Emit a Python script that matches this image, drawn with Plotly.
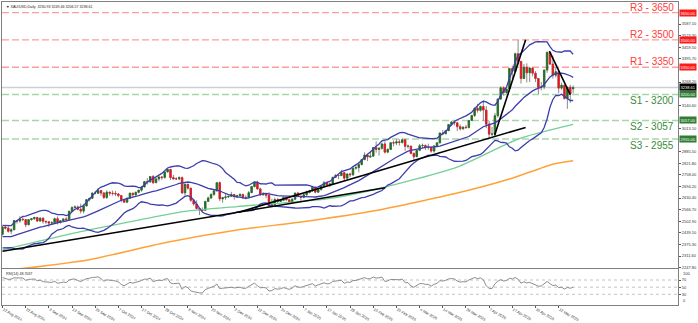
import numpy as np
import pandas as pd
import plotly.graph_objects as go

# ---------------- data ----------------
holidays = ["2024-12-25", "2025-01-01", "2025-04-18"]
dates = [d for d in pd.bdate_range("2024-08-12", "2025-05-19") if d.strftime("%Y-%m-%d") not in holidays]

open_ = [
    2431, 2472, 2465, 2448, 2456, 2507, 2504, 2514, 2512, 2484, 2512, 2517, 2524, 2504, 2520,
    2503, 2500, 2493, 2495, 2517, 2497, 2506, 2516, 2512, 2558, 2578, 2582, 2569, 2559, 2587, 2622, 2629, 2657, 2657, 2672, 2658,
    2634, 2663, 2657, 2656, 2653, 2644, 2622, 2608, 2630, 2657, 2649, 2662, 2674, 2692, 2721, 2720, 2749, 2715, 2736, 2747, 2743, 2774, 2788,
    2743, 2736, 2736, 2743, 2659, 2706, 2685, 2618, 2598, 2573, 2565, 2563, 2612, 2631, 2650, 2670, 2715, 2626, 2633, 2637, 2640,
    2650, 2639, 2643, 2650, 2632, 2633, 2660, 2694, 2718, 2681, 2648, 2652, 2646, 2587, 2594, 2622, 2612, 2618, 2634, 2621, 2606,
    2624, 2658, 2640, 2635, 2649, 2661, 2670, 2690, 2663, 2677, 2696, 2715, 2703, 2708, 2745, 2755, 2754, 2770, 2740, 2763, 2759, 2795,
    2798, 2815, 2842, 2867, 2856, 2861, 2908, 2898, 2904, 2928, 2883, 2898, 2935, 2933, 2940, 2936, 2951, 2915, 2916, 2876,
    2858, 2893, 2918, 2920, 2910, 2910, 2889, 2917, 2934, 2988, 2984, 3001, 3035, 3048, 3044, 3023, 3011, 3020, 3018, 3057, 3085,
    3124, 3113, 3134, 3114, 3037, 2982, 2983, 3083, 3175, 3237, 3211, 3230, 3343, 3327, 3424, 3381, 3288, 3349, 3319, 3345, 3317,
    3288, 3239, 3241, 3334, 3431, 3367, 3306, 3325, 3235, 3251, 3178, 3240, 3230.93,
]
high = [
    2475, 2479, 2478, 2464, 2509, 2510, 2531, 2526, 2514, 2513, 2521, 2527, 2527, 2524, 2524,
    2505, 2504, 2503, 2523, 2529, 2507, 2517, 2525, 2560, 2586, 2590, 2589, 2600, 2599, 2625, 2632, 2664, 2670, 2685, 2674, 2664,
    2673, 2666, 2672, 2670, 2658, 2646, 2624, 2633, 2661, 2660, 2666, 2675, 2696, 2722, 2740, 2749, 2758, 2738, 2748, 2748, 2776, 2790, 2790,
    2758, 2745, 2750, 2749, 2711, 2709, 2686, 2627, 2618, 2575, 2579, 2615, 2639, 2657, 2673, 2716, 2722, 2635, 2656, 2643, 2665,
    2652, 2649, 2658, 2656, 2646, 2669, 2696, 2721, 2726, 2688, 2664, 2653, 2664, 2627, 2633, 2630, 2621, 2639, 2637, 2626, 2630,
    2660, 2665, 2643, 2654, 2671, 2676, 2697, 2691, 2680, 2697, 2725, 2722, 2711, 2746, 2763, 2759, 2786, 2773, 2765, 2770, 2800, 2817,
    2830, 2845, 2882, 2872, 2887, 2911, 2942, 2910, 2935, 2943, 2904, 2938, 2947, 2955, 2954, 2957, 2956, 2925, 2918, 2881,
    2895, 2928, 2930, 2925, 2930, 2912, 2921, 2940, 2990, 3005, 3002, 3038, 3055, 3057, 3047, 3036, 3025, 3033, 3060, 3087, 3128,
    3149, 3139, 3168, 3136, 3055, 3023, 3099, 3176, 3245, 3245, 3232, 3345, 3358, 3430, 3500, 3386, 3368, 3371, 3352, 3349, 3328,
    3290, 3269, 3337, 3437, 3434, 3414, 3348, 3327, 3265, 3252, 3241, 3253, 3249.46,
]
low = [
    2425, 2458, 2440, 2432, 2455, 2490, 2496, 2505, 2471, 2481, 2506, 2511, 2499, 2502, 2490,
    2489, 2472, 2484, 2491, 2485, 2490, 2500, 2500, 2510, 2556, 2574, 2563, 2546, 2546, 2585, 2612, 2625, 2651, 2653, 2643, 2625,
    2625, 2643, 2644, 2642, 2635, 2607, 2605, 2603, 2626, 2637, 2642, 2656, 2666, 2688, 2705, 2714, 2709, 2715, 2723, 2731, 2738, 2772, 2730,
    2733, 2730, 2728, 2652, 2643, 2677, 2610, 2589, 2568, 2537, 2555, 2562, 2610, 2625, 2643, 2667, 2613, 2605, 2621, 2631, 2637,
    2622, 2631, 2639, 2625, 2623, 2632, 2660, 2689, 2677, 2643, 2645, 2630, 2583, 2584, 2583, 2603, 2609, 2616, 2616, 2597, 2603,
    2623, 2636, 2615, 2629, 2643, 2656, 2665, 2657, 2660, 2672, 2688, 2700, 2690, 2702, 2741, 2735, 2752, 2730, 2737, 2745, 2752, 2787,
    2772, 2810, 2839, 2834, 2853, 2860, 2880, 2864, 2897, 2876, 2880, 2896, 2915, 2922, 2919, 2930, 2890, 2903, 2871, 2833,
    2856, 2888, 2904, 2894, 2896, 2880, 2880, 2907, 2932, 2976, 2982, 3000, 3026, 3029, 2999, 3002, 3007, 3012, 3014, 3055, 3076,
    3100, 3106, 3054, 3015, 2957, 2971, 2970, 3073, 3170, 3194, 3204, 3228, 3284, 3322, 3366, 3260, 3288, 3266, 3268, 3300, 3268,
    3202, 3222, 3229, 3319, 3364, 3287, 3293, 3207, 3226, 3172, 3121, 3154, 3206.57,
]
close = [
    2472, 2465, 2448, 2456, 2507, 2504, 2514, 2512, 2484, 2512, 2517, 2524, 2504, 2520, 2503,
    2500, 2493, 2495, 2517, 2497, 2506, 2516, 2512, 2558, 2578, 2582, 2569, 2559, 2587, 2622, 2629, 2657, 2657, 2672, 2658, 2634,
    2663, 2657, 2656, 2653, 2644, 2622, 2608, 2630, 2657, 2649, 2662, 2674, 2692, 2721, 2720, 2749, 2715, 2736, 2747, 2743, 2774, 2788, 2743,
    2736, 2736, 2743, 2659, 2706, 2685, 2618, 2598, 2573, 2565, 2563, 2612, 2631, 2650, 2670, 2715, 2626, 2633, 2637, 2640, 2650,
    2639, 2643, 2650, 2632, 2633, 2660, 2694, 2718, 2681, 2648, 2652, 2646, 2587, 2594, 2622, 2612, 2618, 2634, 2621, 2606, 2624,
    2658, 2640, 2635, 2649, 2661, 2670, 2690, 2663, 2677, 2696, 2715, 2703, 2708, 2745, 2755, 2754, 2770, 2740, 2763, 2759, 2795, 2798,
    2815, 2842, 2867, 2856, 2861, 2908, 2898, 2904, 2928, 2883, 2898, 2935, 2933, 2940, 2936, 2951, 2915, 2916, 2876, 2858,
    2893, 2918, 2920, 2910, 2910, 2889, 2917, 2934, 2988, 2984, 3001, 3035, 3048, 3044, 3023, 3011, 3020, 3018, 3057, 3085, 3124,
    3113, 3134, 3114, 3037, 2982, 2983, 3083, 3175, 3237, 3211, 3230, 3343, 3327, 3424, 3381, 3288, 3349, 3319, 3345, 3317, 3288,
    3239, 3241, 3334, 3431, 3367, 3306, 3325, 3235, 3251, 3178, 3240, 3202, 3238.61,
]
# closes of the 20 sessions before the window (for Bollinger / RSI warm-up)
pre_close = [2422, 2469, 2459, 2445, 2400, 2396, 2409, 2398, 2365, 2387,
             2384, 2411, 2448, 2446, 2443, 2410, 2390, 2382, 2427, 2431]

ma100_dates = ["2024-08-12", "2024-09-18", "2024-10-16", "2024-11-07", "2024-12-03", "2025-01-17",
               "2025-02-11", "2025-03-21", "2025-04-22", "2025-05-19"]
ma100_vals = [2346, 2446, 2509, 2557, 2584, 2626, 2679, 2801, 2955, 3035]
ma200_dates = ["2024-08-19", "2024-09-23", "2024-10-29", "2024-12-03", "2025-01-06", "2025-02-11",
               "2025-03-21", "2025-04-16", "2025-05-08", "2025-05-19"]
ma200_vals = [2240, 2292, 2385, 2455, 2499, 2562, 2658, 2735, 2817, 2836]

# trend lines (bar position, price)
tl_x0 = [0.0, 81.6, 169.9, 188.8]
tl_y0 = [2338, 2553, 2976, 3438]
tl_x1 = [132.1, 180.6, 180.6, 196.0]
tl_y1 = [2687, 3019, 3501, 3199]

level_names = ["R3 - 3650", "R2 - 3500", "R1 - 3350", "S1 - 3200", "S2 - 3057", "S3 - 2955"]
level_vals = [3650, 3500, 3350, 3200, 3057, 2955]
level_kind = ["R", "R", "R", "S", "S", "S"]

# price-scale labels that are visible (the rest sit under the coloured level tags)
price_ticks = [2247.80, 2311.60, 2375.30, 2439.10, 2502.90, 2566.70, 2630.40, 2694.20, 2758.00,
               2821.80, 2885.50, 3013.10, 3140.60, 3268.20,
               3395.70, 3459.50, 3523.30, 3587.10]
x_tick_dates = ["2024-08-12", "2024-08-22", "2024-09-03", "2024-09-13", "2024-09-25", "2024-10-07",
                "2024-10-17", "2024-10-29", "2024-11-08", "2024-11-20", "2024-12-02", "2024-12-12",
                "2024-12-24", "2025-01-07", "2025-01-17", "2025-01-29", "2025-02-10", "2025-02-20",
                "2025-03-04", "2025-03-14", "2025-03-26", "2025-04-07", "2025-04-17", "2025-04-30",
                "2025-05-12"]
rsi_levels = [70, 50, 30]
title_text = "\u25BC XAU/USD,Daily  3230.93 3249.46 3206.57 3238.61"
rsi_title = "RSI(14) 48.7037"

# ---------------- derived ----------------
n = len(close)
x = list(range(n))
pos = {d.strftime("%Y-%m-%d"): i for i, d in enumerate(dates)}

all_close = pd.Series(pre_close + close, dtype=float)
mid = all_close.rolling(20).mean()
sd = all_close.rolling(20).std(ddof=0)
bb_mid = mid.iloc[-n:].to_numpy()
bb_up = (mid + 2 * sd).iloc[-n:].to_numpy()
bb_lo = (mid - 2 * sd).iloc[-n:].to_numpy()

delta = all_close.diff()
gain = delta.clip(lower=0).ewm(alpha=1 / 14, adjust=False).mean()
loss = (-delta.clip(upper=0)).ewm(alpha=1 / 14, adjust=False).mean()
rsi = (100 - 100 / (1 + gain / loss)).iloc[-n:].to_numpy()

body_hi = [max(o, c) for o, c in zip(open_, close)]
body_lo = [min(o, c) for o, c in zip(open_, close)]

XR = [-0.17, 233.2]
YR = [2244.2, 3708.4]
FONT = "Liberation Sans, Arial"

fig = go.Figure()

# moving averages
fig.add_trace(go.Scatter(x=[pos[d] for d in ma200_dates], y=ma200_vals, mode="lines",
                         line=dict(color="#ffa238", width=1.5, shape="spline", smoothing=0.6),
                         xaxis="x", yaxis="y"))
fig.add_trace(go.Scatter(x=[pos[d] for d in ma100_dates], y=ma100_vals, mode="lines",
                         line=dict(color="#72d096", width=1.3, shape="spline", smoothing=0.6),
                         xaxis="x", yaxis="y"))
# Bollinger bands
for arr in (bb_up, bb_mid, bb_lo):
    fig.add_trace(go.Scatter(x=x, y=arr, mode="lines", line=dict(color="#3d3dad", width=1.3),
                             xaxis="x", yaxis="y"))

# candles: wicks then bodies
fig.add_trace(go.Candlestick(x=x, open=open_, high=high, low=low, close=close,
                             increasing=dict(line=dict(color="#8a8a8a", width=1), fillcolor="rgba(0,0,0,0)"),
                             decreasing=dict(line=dict(color="#8a8a8a", width=1), fillcolor="rgba(0,0,0,0)"),
                             whiskerwidth=0, xaxis="x", yaxis="y"))
fig.add_trace(go.Candlestick(x=x, open=open_, high=body_hi, low=body_lo, close=close,
                             increasing=dict(line=dict(color="#1e6e1e", width=0.6), fillcolor="#1e6e1e"),
                             decreasing=dict(line=dict(color="#e8121c", width=0.6), fillcolor="#e8121c"),
                             whiskerwidth=0, xaxis="x", yaxis="y"))

# trend lines
for a, b, c, d in zip(tl_x0, tl_y0, tl_x1, tl_y1):
    fig.add_trace(go.Scatter(x=[a, c], y=[b, d], mode="lines", line=dict(color="black", width=1.6),
                             xaxis="x", yaxis="y"))

# RSI
fig.add_trace(go.Scatter(x=x, y=rsi, mode="lines", line=dict(color="#8c8c8c", width=1),
                         xaxis="x2", yaxis="y2"))

shapes = []
annotations = []
for name, v, k in zip(level_names, level_vals, level_kind):
    col = "#ff9d9d" if k == "R" else "#a9d6a9"
    shapes.append(dict(type="line", xref="paper", x0=0, x1=1, yref="y", y0=v, y1=v, layer="below",
                       line=dict(color=col, width=1.4, dash="7px,3px")))
    annotations.append(dict(xref="paper", x=1, xanchor="right", xshift=-2, yref="y", y=v,
                            yanchor="bottom" if k == "R" else "top", yshift=-2 if k == "R" else 1,
                            text=name, showarrow=False,
                            font=dict(family=FONT, size=10,
                                      color="#ff3a3a" if k == "R" else "#3a8a3a")))
    annotations.append(dict(xref="paper", x=1, xanchor="left", xshift=1, yref="y", y=v, yanchor="middle",
                            text=f"{v:.2f}", showarrow=False, bgcolor="#ff1a1a" if k == "R" else "#2e7d32",
                            borderpad=0.5, font=dict(family=FONT, size=4, color="white")))

# current price line + label
shapes.append(dict(type="line", xref="paper", x0=0, x1=1, yref="y", y0=close[-1], y1=close[-1], layer="below",
                   line=dict(color="#c9d0d8", width=1.6)))
annotations.append(dict(xref="paper", x=1, xanchor="left", xshift=1, yref="y", y=close[-1], yanchor="middle",
                        text=f"{close[-1]:.2f}", showarrow=False, bgcolor="#000000", borderpad=0.5,
                        font=dict(family=FONT, size=4, color="white")))

for lv in rsi_levels:
    shapes.append(dict(type="line", xref="paper", x0=0, x1=1, yref="y2", y0=lv, y1=lv, layer="below",
                       line=dict(color="#b4b4b4", width=0.8, dash="dot")))

annotations.append(dict(xref="paper", x=0, xanchor="left", xshift=2, yref="paper", y=1, yanchor="top",
                        yshift=-1, text=title_text, showarrow=False,
                        font=dict(family=FONT, size=3.6, color="#222222")))
annotations.append(dict(xref="paper", x=0, xanchor="left", xshift=2, yref="y2", y=100, yanchor="top",
                        yshift=-1, text=rsi_title, showarrow=False,
                        font=dict(family=FONT, size=3.6, color="#222222")))
for v, anc in ((100, "top"), (0, "bottom")):
    annotations.append(dict(xref="paper", x=1, xanchor="left", xshift=3, yref="y2", y=v, yanchor=anc,
                            text=str(v), showarrow=False,
                            font=dict(family=FONT, size=4, color="#333333")))

axis_common = dict(showgrid=False, zeroline=False, showline=True, mirror=True, linecolor="#808080", linewidth=1)

fig.update_layout(
    width=698, height=323,
    margin=dict(l=2, r=17, t=1, b=8),
    paper_bgcolor="white", plot_bgcolor="white",
    showlegend=False, hovermode=False, boxmode="overlay",
    shapes=shapes, annotations=annotations,
    xaxis=dict(domain=[0, 1], anchor="y", range=XR, showticklabels=False, rangeslider=dict(visible=False),
               **axis_common),
    yaxis=dict(domain=[0.121, 1], anchor="x", side="right", range=YR,
               tickvals=price_ticks, ticktext=[f"{v:.2f}" for v in price_ticks],
               ticks="outside", ticklen=2, tickcolor="#555555",
               tickfont=dict(family=FONT, size=4, color="#333333"), **axis_common),
    xaxis2=dict(domain=[0, 1], anchor="y2", matches="x", range=XR,
                tickvals=[pos[d] for d in x_tick_dates],
                ticktext=[pd.Timestamp(d).strftime("%-d %b %Y") for d in x_tick_dates],
                ticklabelposition="outside right", ticks="outside", ticklen=2, tickcolor="#555555",
                tickfont=dict(family=FONT, size=3.8, color="#333333"),
                rangeslider=dict(visible=False), **axis_common),
    yaxis2=dict(domain=[0, 0.1178], anchor="x2", side="right", range=[0, 100],
                tickvals=rsi_levels, ticktext=[str(v) for v in rsi_levels],
                ticks="outside", ticklen=2, tickcolor="#555555",
                tickfont=dict(family=FONT, size=4, color="#333333"), **axis_common),
)

fig.write_html("out.html")
